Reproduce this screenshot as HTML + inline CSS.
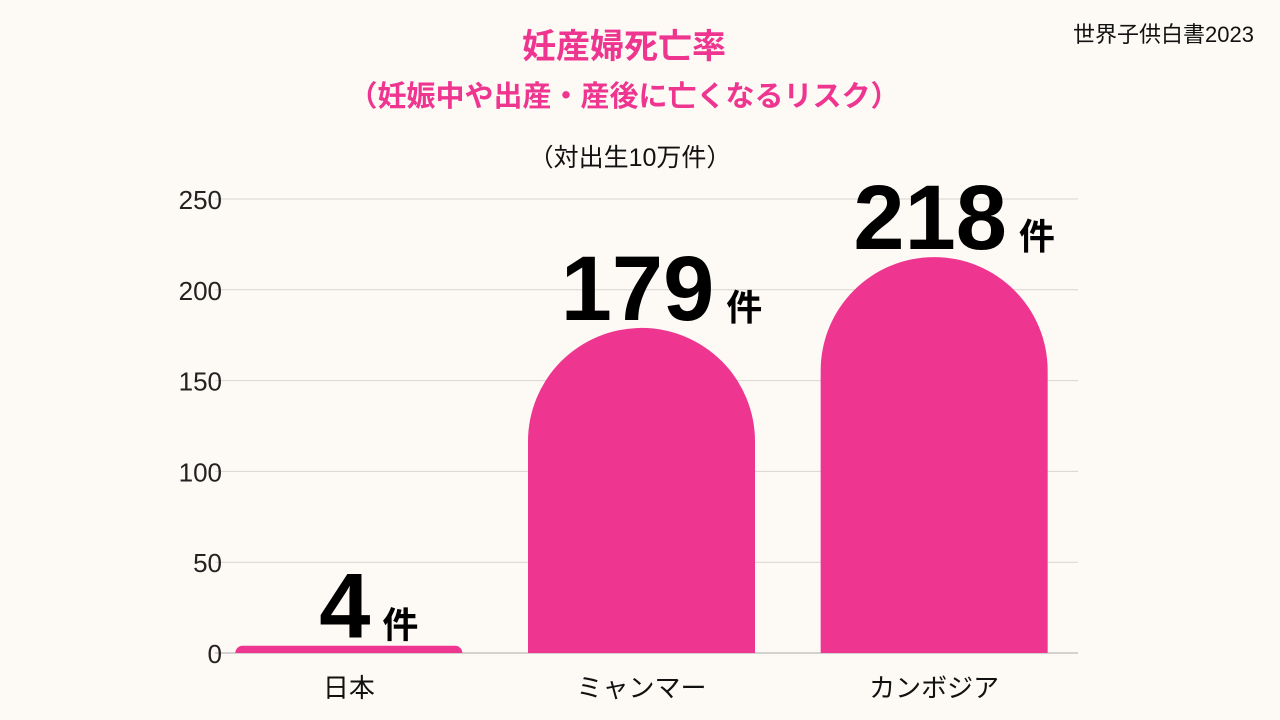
<!DOCTYPE html>
<html><head><meta charset="utf-8">
<style>
body{margin:0;background:#fdf9f4;}
svg{display:block;font-family:"Liberation Sans","Noto Sans CJK JP",sans-serif;}
</style></head>
<body>
<svg id="chart" width="1280" height="720" viewBox="0 0 1280 720">
<rect width="1280" height="720" fill="#fdf9f4"/>
<text x="624" y="58" text-anchor="middle" font-size="34" font-weight="bold" fill="#ee3590">妊産婦死亡率</text>
<text x="624" y="106" text-anchor="middle" font-size="29" font-weight="bold" fill="#ee3590">（妊娠中や出産・産後に亡くなるリスク）</text>
<text x="630" y="166" text-anchor="middle" font-size="25" fill="#111">（対出生10万件）</text>
<text x="1254" y="42" text-anchor="end" font-size="22" fill="#111">世界子供白書2023</text>
<g id="grid"></g><g id="bars"></g>
</svg>
<script>
const categories=["日本","ミャンマー","カンボジア"];
const values=[4,179,218];
const ticks=[0,50,100,150,200,250];
const ns="http://www.w3.org/2000/svg";
const svg=document.getElementById('chart');
const x0=215,x1=1078,y0=653,yTop=199,maxV=250;
const y=v=>y0-(v/maxV)*(y0-yTop);
const band=(x1-x0)/categories.length, bw=227;
const cx=i=>x0+band*i+band/2+(i===0?-10:i===1?-5:0);
function mk(t,a,p){const e=document.createElementNS(ns,t);for(const k in a)e.setAttribute(k,a[k]);(p||svg).appendChild(e);return e;}
const g=document.getElementById('grid');
ticks.forEach(t=>{
 const l=mk('line',{x1:x0,x2:x1,y1:y(t),y2:y(t),stroke:t===0?'#aaa':'#d8d6d2','stroke-width':1},g);
 
 
 const tx=mk('text',{x:222,y:y(t)+10,'text-anchor':'end','font-size':26,fill:'#222'},g);
 tx.textContent=t;
 
 
});
const b=document.getElementById('bars');
categories.forEach((c,i)=>{
 const c0=cx(i), l=c0-bw/2, r=c0+bw/2, top=y(values[i]), h=y0-top;
 const rad=Math.min(bw/2,h);
 const ry=Math.min(rad,h);
 const d=`M${l},${y0} L${l},${top+ry} A${rad},${ry} 0 0 1 ${l+rad},${top} L${r-rad},${top} A${rad},${ry} 0 0 1 ${r},${top+ry} L${r},${y0} Z`;
 const p=mk('path',{d:d,fill:'#ee3590'},b);
 
 
 const lab=mk('text',{x:c0+20,y:top-8,'text-anchor':'middle',fill:'#000','font-weight':'bold'},b);
 
 
 const n=mk('tspan',{'font-size':92},lab);n.textContent=values[i];
 const u=mk('tspan',{'font-size':36,dx:12},lab);u.textContent='件';
 const xl=mk('text',{x:c0,y:697,'text-anchor':'middle','font-size':26,fill:'#111'},b);
 xl.textContent=c;
 
 
});
</script>
</body></html>
